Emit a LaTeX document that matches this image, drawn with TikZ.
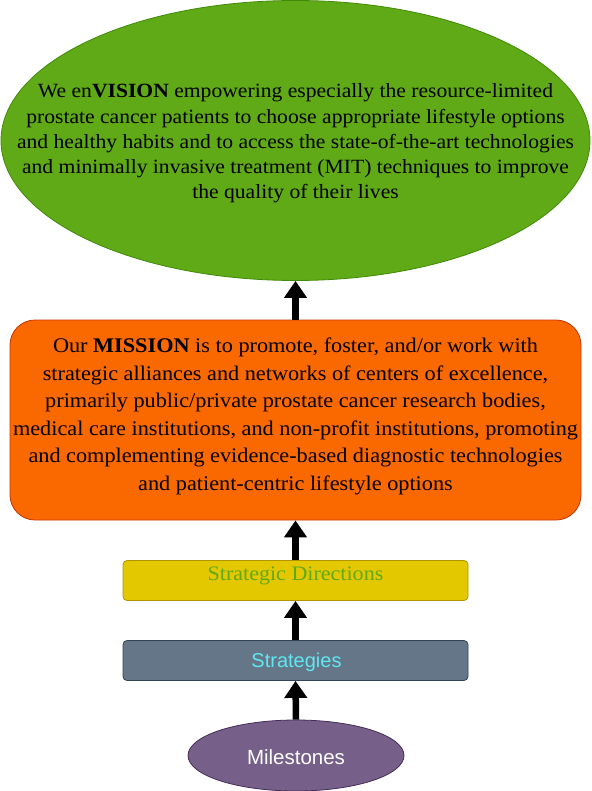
\documentclass[tikz,border=0pt]{standalone}
\usepackage{fontspec}
\setmainfont{Liberation Serif}[FakeStretch=1.07]
\setsansfont{Liberation Sans}
\usetikzlibrary{shapes.geometric,arrows.meta}
\definecolor{vgreen}{HTML}{60A917}
\definecolor{vgreenB}{HTML}{2D7600}
\definecolor{morange}{HTML}{FA6800}
\definecolor{morangeB}{HTML}{C73500}
\definecolor{syellow}{HTML}{E3C800}
\definecolor{syellowB}{HTML}{B09500}
\definecolor{sgray}{HTML}{647687}
\definecolor{sgrayB}{HTML}{314354}
\definecolor{mpurple}{HTML}{76608A}
\definecolor{mpurpleB}{HTML}{432D57}
\definecolor{scyan}{HTML}{5FE8F2}
\tikzset{
  bigarrow/.style={line width=6.5pt, -{Triangle[width=22pt,length=17pt]}, black},
  smallbox/.style={rectangle, rounded corners=4pt, minimum width=345pt, minimum height=40pt, line width=0.8pt, inner sep=0pt},
}
\begin{document}
\begin{tikzpicture}[x=1pt,y=-1pt]
\useasboundingbox (0,0) rectangle (591,791);
% Vision
\node (vision) [ellipse, draw=vgreenB!60!vgreen, fill=vgreen, line width=0.8pt, minimum width=589pt, minimum height=280pt, inner sep=0pt] at (295.5,140.5) {};
\node (visiontext) [align=center, font=\fontsize{20.2}{25.2}\selectfont, inner sep=0pt] at (295.5,143.5) {We en\textbf{VISION} empowering especially the resource-limited\\prostate cancer patients to choose appropriate lifestyle options\\and healthy habits and to access the state-of-the-art technologies\\and minimally invasive treatment (MIT) techniques to improve\\the quality of their lives};
% Mission
\node (mission) [rectangle, rounded corners=25pt, draw=morangeB, fill=morange, line width=0.8pt, minimum width=571pt, minimum height=200pt, inner sep=0pt] at (295.5,420) {};
\node (missiontext) [align=center, font=\fontsize{20.8}{27.5}\selectfont, inner sep=0pt] at (295.5,416.5) {Our \textbf{MISSION} is to promote, foster, and/or work with\\strategic alliances and networks of centers of excellence,\\primarily public/private prostate cancer research bodies,\\medical care institutions, and non-profit institutions, promoting\\and complementing evidence-based diagnostic technologies\\and patient-centric lifestyle options};
% Strategic Directions
\node (sd) [smallbox, draw=syellowB, fill=syellow] at (295.5,580.5) {};
\node (sdtext) [text=vgreen, font=\fontsize{20.6}{22}\selectfont, inner sep=0pt] at (295.5,576) {Strategic Directions};
% Strategies
\node (st) [smallbox, draw=sgrayB, fill=sgray] at (295.5,660.5) {};
\node (sttext) [text=scyan, font=\sffamily\fontsize{20}{22}\selectfont, inner sep=0pt] at (296.5,662) {Strategies};
% Milestones
\node (ms) [ellipse, draw=mpurpleB, fill=mpurple, line width=0.8pt, minimum width=216pt, minimum height=71pt, inner sep=0pt] at (296,755.5) {};
\node (mstext) [text=white, font=\sffamily\fontsize{20.5}{22}\selectfont, inner sep=0pt] at (296,757) {Milestones};
% arrows
\draw[bigarrow] (ms.north) -- (st.south);
\draw[bigarrow] (st.north) -- (sd.south);
\draw[bigarrow] (sd.north) -- (mission.south);
\draw[bigarrow] (mission.north) -- (vision.south);
\end{tikzpicture}
\end{document}
